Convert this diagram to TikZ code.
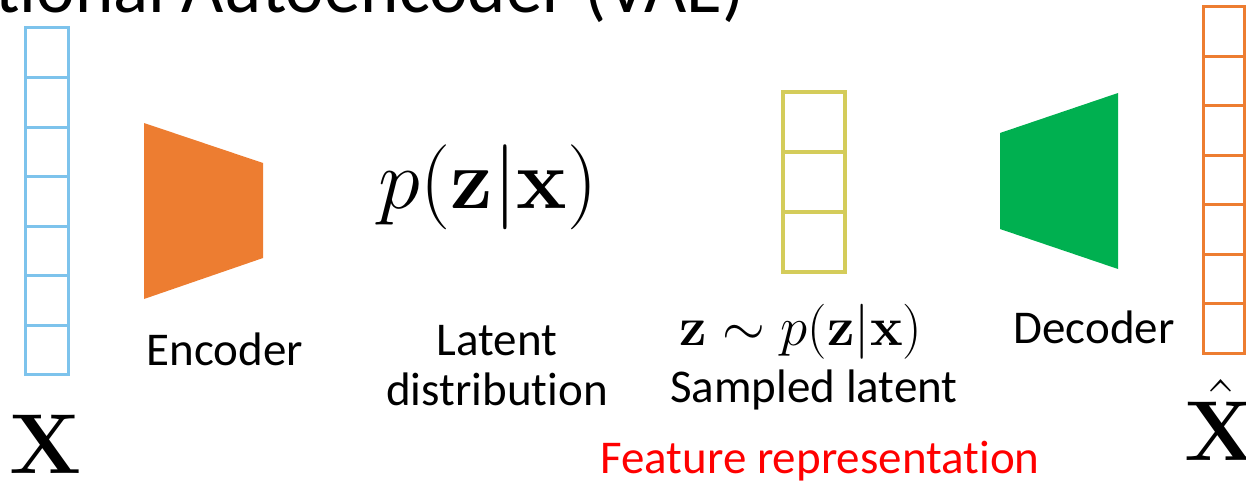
\documentclass[tikz,border=0pt]{standalone}
\usepackage{fix-cm}
\usepackage{amsmath}
\usepackage[no-math]{fontspec}
\setmainfont{Carlito}[Ligatures=NoCommon]
\usepackage{xcolor}
\usepackage{tikz}
\usetikzlibrary{positioning}

\definecolor{vecblue}{RGB}{125,195,236}
\definecolor{encorange}{RGB}{237,125,49}
\definecolor{decgreen}{RGB}{0,176,80}
\definecolor{latyellow}{RGB}{212,204,90}

\begin{document}
\begin{tikzpicture}[
    x=1pt, y=-1pt,
    font=\fontsize{47}{50}\selectfont,
    txt/.style={
        inner sep=0pt,
        anchor=base
    },
    mathbig/.style={
        txt,
        font=\fontsize{85}{90}\selectfont
    },
    mathsmall/.style={
        txt,
        font=\fontsize{55}{60}\selectfont
    },
    cell/.style={
        line width=3pt
    }
]
\useasboundingbox (0,0) rectangle (1246,492);
\clip (0,0) rectangle (1246,492);

% Title (cut at the top)
\node[txt, anchor=base east, font=\fontsize{73}{80}\selectfont] (title) at (745,13) {Variational Autoencoder (VAE)};

% Input vector
\foreach \i in {0,...,6}
    \draw[cell, draw=vecblue] (25,{28+\i*49.57}) rectangle ++(43,49.57);
\node[mathbig] (xin) at (46,473) {$\mathbf{X}$};

% Encoder
\fill[encorange] (144,123) -- (263,163) -- (263,258) -- (144,299) -- cycle;
\node[txt] (enc) at (225,365) {Encoder};

% Latent distribution
\node[mathbig] (pzx) at (488,208) {$p(\mathbf{z}|\mathbf{x})$};
\node[txt] (latent) at (497,355) {Latent};
\node[txt] (distr) at (497,405) {distribution};

% Sampled latent
\foreach \i in {0,...,2}
    \draw[cell, line width=4pt, draw=latyellow] (783,{92+\i*60}) rectangle ++(62,60);
\node[mathsmall] (zs) at (801,345) {$\mathbf{z}\sim p(\mathbf{z}|\mathbf{x})$};
\node[txt] (sampled) at (814,402) {Sampled latent};
\node[txt, text=red] (feat) at (820,473) {Feature representation};

% Decoder
\fill[decgreen] (1000,133) -- (1118,93) -- (1118,269) -- (1000,229) -- cycle;
\node[txt] (dec) at (1094,343) {Decoder};

% Output vector
\foreach \i in {0,...,6}
    \draw[cell, draw=encorange] (1203,{7+\i*49.43}) rectangle ++(41,49.43);
\node[mathbig] (xout) at (1221,460) {$\hat{\mathbf{X}}$};

\end{tikzpicture}
\end{document}
